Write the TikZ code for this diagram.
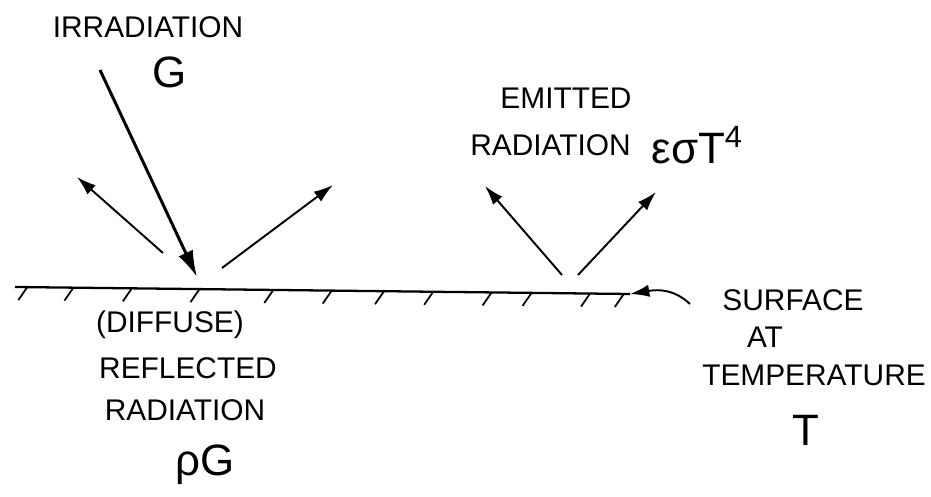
\documentclass[tikz,border=0pt]{standalone}
\usepackage{fontspec}
\setmainfont{Liberation Sans}
\usetikzlibrary{arrows.meta,positioning,calc}

\begin{document}
\begin{tikzpicture}[x=0.02cm, y=-0.02cm,
        lbl/.style={font=\fontsize{17}{20}\selectfont,inner sep=0pt,align=center},
        sym/.style={font=\fontsize{25}{30}\selectfont,inner sep=0pt},
        ray/.style={line width=1.1pt,-{Latex[length=11pt,width=7pt]}},
        inray/.style={line width=1.7pt,-{Latex[length=15pt,width=9pt]}}]
        \useasboundingbox (0,0) rectangle (931,497);
        % surface
        \coordinate (sl) at (15,287);
        \coordinate (sr) at (630,294);
        \draw[line width=1.3pt] (sl) -- (sr);
        \foreach \p in {0.02,0.095,0.19,0.3,0.42,0.515,0.6,0.68,0.775,0.84,0.935,0.99}
          \draw[line width=1pt] ($(sl)!\p!(sr)$) -- ++(-9,13);
        % rays
        \coordinate (gin) at (100,70);
        \coordinate (ghit) at (197,277);
        \coordinate (rl0) at (163,253);
        \coordinate (rl1) at (77,177);
        \coordinate (rr0) at (222,268);
        \coordinate (rr1) at (333,185);
        \coordinate (el0) at (562,275);
        \coordinate (el1) at (485,186);
        \coordinate (er0) at (578,275);
        \coordinate (er1) at (656,192);
        \draw[inray] (gin) -- (ghit);
        \draw[ray] (rl0) -- (rl1);
        \draw[ray] (rr0) -- (rr1);
        \draw[ray] (el0) -- (el1);
        \draw[ray] (er0) -- (er1);
        % labels
        \node[lbl] (irr) at (148,27) {IRRADIATION};
        \node[sym] (g) at (170,72) {G};
        \node[lbl] (emi) at (566,98) {EMITTED};
        \node[lbl,anchor=west] (emr) at (470,145) {RADIATION};
        \node[sym,right=0.4cm of emr.east,anchor=west] (eq) {εσT\textsuperscript{4}};
        \node[lbl] (srf) at (793,300) {SURFACE};
        \node[lbl] (at) at (765,337) {AT};
        \node[lbl] (tmp) at (814,375) {TEMPERATURE};
        \node[sym] (t) at (806,430) {T};
        \node[lbl] (dif) at (170,325) {(DIFFUSE)};
        \node[lbl] (rfl) at (188,368) {REFLECTED};
        \node[lbl] (rad) at (185,410) {RADIATION};
        \node[sym] (rg) at (205,465) {ρG};
        % pointer to surface
        \coordinate (ptr) at (690,304);
        \draw[ray] (ptr) .. controls (675,290) and (660,289) .. (sr);
      \end{tikzpicture}
\end{document}
